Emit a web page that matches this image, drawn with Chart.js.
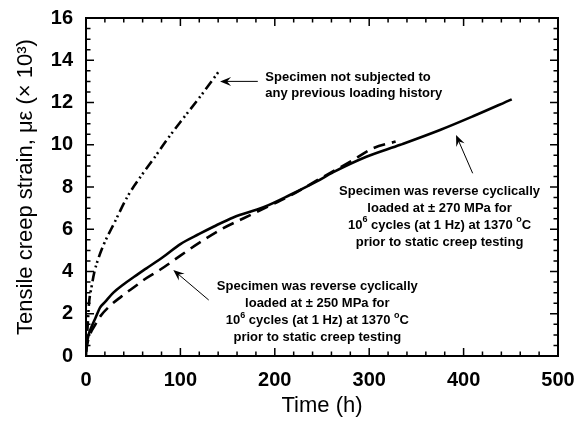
<!DOCTYPE html>
<html>
<head>
<meta charset="utf-8">
<script src="https://cdn.jsdelivr.net/npm/chart.js@4.4.1/dist/chart.umd.min.js"></script>
<style>
  html, body { margin: 0; padding: 0; background: #fff; }
  #wrap { width: 577px; height: 426px; position: relative; }
</style>
</head>
<body>
<div id="wrap"><canvas id="creep"></canvas></div>
<script>
// ---- data ----
const timeVirgin   = [0, 1, 2, 3, 6, 9, 13, 19, 30, 44, 58, 72, 86, 100, 121, 142];
const strainVirgin = [0, 0.9, 1.6, 2.4, 3.3, 4.0, 4.6, 5.3, 6.3, 7.55, 8.5, 9.36, 10.25, 11.08, 12.28, 13.55];

const time270   = [0, 1, 3, 6, 10, 15, 20, 29, 40, 51, 64, 82, 100, 120, 135, 156, 188, 216, 244, 262, 297, 333, 375, 410, 451];
const strain270 = [0.2, 0.6, 1.05, 1.4, 1.8, 2.3, 2.55, 3.0, 3.4, 3.75, 4.15, 4.7, 5.3, 5.78, 6.12, 6.56, 7.04, 7.62, 8.25, 8.7, 9.43, 10.0, 10.7, 11.35, 12.15];

const time250   = [0, 2, 5, 10, 15.5, 26, 37, 54, 61, 78, 100, 119, 145, 167, 191, 213, 250, 280, 304, 328];
const strain250 = [0.2, 0.7, 1.1, 1.5, 1.9, 2.4, 2.8, 3.36, 3.6, 4.07, 4.75, 5.33, 6.04, 6.52, 7.04, 7.51, 8.45, 9.2, 9.83, 10.15];

const xTickValues = [0, 100, 200, 300, 400, 500];
const yTickValues = [0, 2, 4, 6, 8, 10, 12, 14, 16];

// annotation text (^c = superscript character)
const noteVirgin = ["Specimen not subjected to", "any previous loading history"];
const note270 = ["Specimen was reverse cyclically", "loaded at \u00b1 270 MPa for", "10^6 cycles (at 1 Hz) at 1370 ^oC", "prior to static creep testing"];
const note250 = ["Specimen was reverse cyclically", "loaded at \u00b1 250 MPa for", "10^6 cycles (at 1 Hz) at 1370 ^oC", "prior to static creep testing"];

const FONT = "'Liberation Sans', Arial, Helvetica, sans-serif";
Chart.defaults.font.family = FONT;
Chart.defaults.color = "#000";

function pts(xs, ys) {
  return xs.map((x, i) => ({ x: x, y: ys[i] }));
}

// draw a line of text with simple superscripts
function richLine(ctx, text, x, y, align) {
  const parts = [];
  for (let i = 0; i < text.length; i++) {
    if (text[i] === "^") { parts.push({ t: text[i + 1], sup: true }); i++; }
    else if (parts.length && !parts[parts.length - 1].sup) parts[parts.length - 1].t += text[i];
    else parts.push({ t: text[i], sup: false });
  }
  const big = "bold 13px " + FONT, small = "bold 9px " + FONT;
  let w = 0;
  parts.forEach(p => { ctx.font = p.sup ? small : big; p.w = ctx.measureText(p.t).width; w += p.w; });
  let cx = align === "center" ? x - w / 2 : x;
  ctx.textAlign = "left";
  ctx.textBaseline = "middle";
  parts.forEach(p => {
    ctx.font = p.sup ? small : big;
    ctx.fillText(p.t, cx, p.sup ? y - 5 : y);
    cx += p.w;
  });
}

function arrow(ctx, x1, y1, x2, y2) {
  // from (x1,y1) tail to (x2,y2) tip
  const a = Math.atan2(y2 - y1, x2 - x1);
  ctx.save();
  ctx.strokeStyle = "#000";
  ctx.lineWidth = 1;
  ctx.beginPath();
  ctx.moveTo(x1, y1);
  ctx.lineTo(x2 - 5 * Math.cos(a), y2 - 5 * Math.sin(a));
  ctx.stroke();
  ctx.translate(x2, y2);
  ctx.rotate(a);
  ctx.fillStyle = "#000";
  ctx.beginPath();
  ctx.moveTo(0, 0);
  ctx.lineTo(-11, -4.5);
  ctx.lineTo(-7, 0);
  ctx.lineTo(-11, 4.5);
  ctx.closePath();
  ctx.fill();
  ctx.restore();
}

const decorations = {
  id: "decorations",
  afterDraw(chart) {
    const { ctx, chartArea: a, scales: { x, y } } = chart;
    ctx.save();
    // frame
    ctx.strokeStyle = "#000";
    ctx.lineWidth = 2;
    ctx.strokeRect(a.left, a.top, a.right - a.left, a.bottom - a.top);
    // inward ticks on all four sides
    ctx.lineWidth = 1.5;
    ctx.beginPath();
    for (let v = 0; v <= 500; v += 20) {
      const px = x.getPixelForValue(v);
      const len = v % 100 === 0 ? 8 : 4.5;
      ctx.moveTo(px, a.bottom); ctx.lineTo(px, a.bottom - len);
      ctx.moveTo(px, a.top); ctx.lineTo(px, a.top + len);
    }
    for (let v = 0; v <= 16; v += 0.5) {
      const py = y.getPixelForValue(v);
      const len = v % 2 === 0 ? 8 : 4.5;
      ctx.moveTo(a.left, py); ctx.lineTo(a.left + len, py);
      ctx.moveTo(a.right, py); ctx.lineTo(a.right - len, py);
    }
    ctx.stroke();

    // notes
    ctx.fillStyle = "#000";
    noteVirgin.forEach((s, i) => richLine(ctx, s, x.getPixelForValue(190), y.getPixelForValue(13.2) + i * 16, "left"));
    note270.forEach((s, i) => richLine(ctx, s, x.getPixelForValue(374.5), y.getPixelForValue(7.81) + i * 17, "center"));
    note250.forEach((s, i) => richLine(ctx, s, x.getPixelForValue(245), y.getPixelForValue(3.27) + i * 17, "center"));

    // arrows
    arrow(ctx, x.getPixelForValue(182), y.getPixelForValue(13.0), x.getPixelForValue(142), y.getPixelForValue(13.0));
    arrow(ctx, x.getPixelForValue(409.6), y.getPixelForValue(8.65), x.getPixelForValue(392), y.getPixelForValue(10.46));
    arrow(ctx, x.getPixelForValue(130), y.getPixelForValue(2.65), x.getPixelForValue(92.5), y.getPixelForValue(4.07));
    ctx.restore();
  }
};

new Chart(document.getElementById("creep"), {
  type: "scatter",
  data: {
    datasets: [
      {
        label: "No previous loading",
        data: pts(timeVirgin, strainVirgin),
        showLine: true, borderColor: "#000", borderWidth: 2.6,
        borderDash: [10, 4, 2, 3, 2, 4], pointRadius: 0, cubicInterpolationMode: "monotone"
      },
      {
        label: "\u00b1 270 MPa",
        data: pts(time270, strain270),
        showLine: true, borderColor: "#000", borderWidth: 2.6,
        pointRadius: 0, cubicInterpolationMode: "monotone"
      },
      {
        label: "\u00b1 250 MPa",
        data: pts(time250, strain250),
        showLine: true, borderColor: "#000", borderWidth: 2.6,
        borderDash: [12, 7], pointRadius: 0, cubicInterpolationMode: "monotone"
      }
    ]
  },
  options: {
    responsive: true,
    maintainAspectRatio: false,
    animation: false,
    layout: { padding: { top: 18, right: 19, left: 0, bottom: 0 } },
    plugins: { legend: { display: false }, tooltip: { enabled: false } },
    scales: {
      x: {
        type: "linear", min: 0, max: 500,
        afterBuildTicks: s => { s.ticks = xTickValues.map(v => ({ value: v })); },
        afterFit: s => { s.height = 70; s.paddingLeft = 0; s.paddingRight = 0; },
        grid: { display: false, drawTicks: false },
        border: { display: false },
        ticks: { padding: 12, font: { size: 20, weight: "bold" }, color: "#000" },
        title: { display: true, text: "Time (h)", font: { size: 22 }, color: "#000", padding: { top: 0, bottom: 7 } }
      },
      y: {
        type: "linear", min: 0, max: 16,
        afterBuildTicks: s => { s.ticks = yTickValues.map(v => ({ value: v })); },
        afterFit: s => { s.width = 86; s.paddingTop = 0; s.paddingBottom = 0; },
        grid: { display: false, drawTicks: false },
        border: { display: false },
        ticks: { padding: 13, font: { size: 20, weight: "bold" }, color: "#000" },
        title: { display: true, text: "Tensile creep strain, \u03bc\u03b5 (\u00d7 10\u00b3)", font: { size: 22 }, color: "#000", padding: { top: 13, bottom: 0 } }
      }
    }
  },
  plugins: [decorations]
});
</script>
</body>
</html>
